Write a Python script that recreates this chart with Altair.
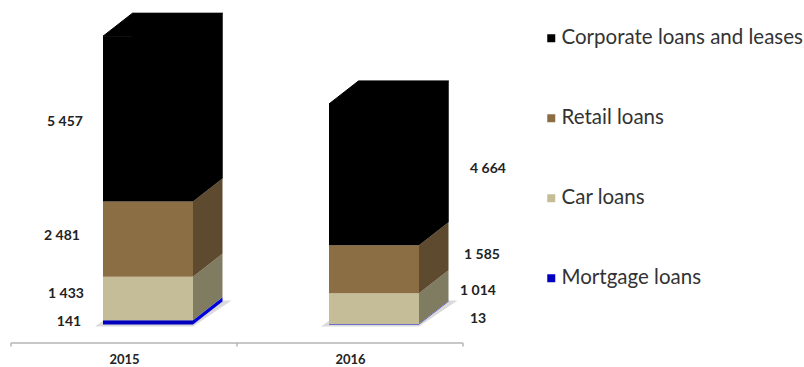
import altair as alt
import pandas as pd

# Loan portfolio by type, top of the stack first
years = ["2015", "2016"]
series_names = ["Corporate loans and leases", "Retail loans", "Car loans", "Mortgage loans"]
corporate = [5457, 4664]
retail = [2481, 1585]
car = [1433, 1014]
mortgage = [141, 13]

front_colors = ["#000000", "#8C6E45", "#C5BD97", "#0000BE"]
side_colors = ["#000000", "#5E4A2E", "#807C62", "#0000E0"]

# Canvas and scale geometry
WIDTH, HEIGHT, FULL_HEIGHT = 804, 343, 367
X0_PX, X_STEP_PX = 124, 226          # pixel position of the first year and spacing of years
Y0_PX, Y_PX_PER_UNIT = 324.4, 0.0303  # pixel position of the zero line and vertical scale
FRONT_L, FRONT_R = -21, 69           # front face edges, pixels from the year position
DEPTH_X, DEPTH_Y = 29.5, 23          # oblique offset of the back faces, pixels


def ux(px):
    return px / X_STEP_PX


def vy(px):
    return px / Y_PX_PER_UNIT


def px_to_x(px):
    return (px - X0_PX) / X_STEP_PX


def px_to_y(px):
    return (Y0_PX - px) / Y_PX_PER_UNIT


x_scale = alt.Scale(domain=[px_to_x(0), px_to_x(WIDTH)], nice=False, zero=False)
y_scale = alt.Scale(domain=[px_to_y(HEIGHT), px_to_y(0)], nice=False, zero=False)

# Stack the segments from the bottom up and derive the 3D faces
columns = [corporate, retail, car, mortgage]
front_rows, side_rows, top_rows, shadow_rows, back_rows = [], [], [], [], []
for yi, year in enumerate(years):
    left, right = yi + ux(FRONT_L), yi + ux(FRONT_R)
    base = 0
    for si in reversed(range(len(series_names))):
        value = columns[si][yi]
        y0, y1 = base, base + value
        base = y1
        front_rows.append(dict(year=year, series=series_names[si], x=left, x2=right, y=y0, y2=y1))
        key = f"{year}-{si}"
        side_rows.append(dict(key=key, fill=side_colors[si], x=right, y=y0, y2=y1))
        side_rows.append(dict(key=key, fill=side_colors[si], x=right + ux(DEPTH_X),
                              y=y0 + vy(DEPTH_Y), y2=y1 + vy(DEPTH_Y)))
    # The back face of the top segment closes the seams between the black faces
    back_rows.append(dict(x=left + ux(DEPTH_X), x2=right + ux(DEPTH_X),
                          y=base - corporate[yi] + vy(DEPTH_Y), y2=base + vy(DEPTH_Y)))
    top_rows.append(dict(key=year, y=base, x=left, x2=right))
    top_rows.append(dict(key=year, y=base + vy(DEPTH_Y), x=left + ux(DEPTH_X), x2=right + ux(DEPTH_X)))
    shadow_rows.append(dict(key=year, y=vy(-2), x=left + ux(-8), x2=right))
    shadow_rows.append(dict(key=year, y=vy(DEPTH_Y + 1), x=left + ux(DEPTH_X), x2=right + ux(DEPTH_X + 9)))

# Value labels sit beside the bars, placed by pixel position
label_px = {
    ("2015", 0): (65, 122), ("2015", 1): (62, 236), ("2015", 2): (66, 294), ("2015", 3): (69, 322),
    ("2016", 0): (488, 169), ("2016", 1): (482, 255), ("2016", 2): (478, 291), ("2016", 3): (478, 319),
}
label_rows = []
for yi, year in enumerate(years):
    for si in range(len(series_names)):
        px, py = label_px[(year, si)]
        label_rows.append(dict(text=f"{columns[si][yi]:,}".replace(",", " "),
                               x=px_to_x(px), y=px_to_y(py)))

X = alt.X("x:Q", scale=x_scale, title=None,
          axis=alt.Axis(values=[0, 1], labelExpr="datum.value == 0 ? '2015' : '2016'",
                        domain=False, ticks=False, grid=False, labelPadding=10,
                        labelFont="Lato", labelFontSize=13, labelFontWeight="bold",
                        labelColor="#222222"))
Y = alt.Y("y:Q", scale=y_scale, axis=None, stack=None)

shadow = alt.Chart(pd.DataFrame(shadow_rows)).mark_area(
    orient="horizontal", color="#DADADA"
).encode(y=Y, x=X, x2="x2:Q", detail="key:N")

backs = alt.Chart(pd.DataFrame(back_rows)).mark_rect(color="#000000").encode(
    x=X, x2="x2:Q", y=Y, y2="y2:Q"
)

sides = alt.Chart(pd.DataFrame(side_rows)).mark_area(orient="vertical").encode(
    x=X, y=Y, y2="y2:Q", detail="key:N", color=alt.Color("fill:N", scale=None)
)

fronts = alt.Chart(pd.DataFrame(front_rows)).mark_rect().encode(
    x=X, x2="x2:Q", y=Y, y2="y2:Q",
    color=alt.Color(
        "series:N",
        scale=alt.Scale(domain=series_names, range=front_colors),
        legend=alt.Legend(
            orient="none", legendX=541, legendY=28, title=None,
            symbolType="square", symbolSize=64, symbolStrokeWidth=0,
            labelFont="Lato", labelFontSize=20.5, labelColor="#333333",
            labelOffset=0, rowPadding=59, labelLimit=300,
        ),
    ),
)

# Drawn after the front faces so its outline hides the seam along the top edge
tops = alt.Chart(pd.DataFrame(top_rows)).mark_area(
    orient="horizontal", color="#000000", stroke="#000000", strokeWidth=1
).encode(y=Y, x=X, x2="x2:Q", detail="key:N")

# Baseline and category separators
axis_y, tick_end = px_to_y(343), px_to_y(346.5)
baseline = alt.Chart(pd.DataFrame([dict(x=-0.5, x2=1.5, y=axis_y)])).mark_rule(
    color="#B5B5B5", strokeWidth=1.5
).encode(x=X, x2="x2:Q", y=Y)
ticks = alt.Chart(pd.DataFrame([dict(x=t, y=axis_y, y2=tick_end) for t in (-0.5, 0.5, 1.5)])).mark_rule(
    color="#B5B5B5", strokeWidth=1.5
).encode(x=X, y=Y, y2="y2:Q")

labels = alt.Chart(pd.DataFrame(label_rows)).mark_text(
    font="Lato", fontSize=14, fontWeight="bold", color="#222222"
).encode(x=X, y=Y, text="text:N")

chart = alt.layer(shadow, backs, sides, fronts, tops, baseline, ticks, labels).properties(
    width=WIDTH, height=HEIGHT,
    padding={"left": 0, "top": 0, "right": 0, "bottom": FULL_HEIGHT - HEIGHT},
    autosize=alt.AutoSizeParams(type="none"),
).configure_view(stroke=None)

chart.save("out.html", embed_options={"renderer": "svg", "actions": False})
